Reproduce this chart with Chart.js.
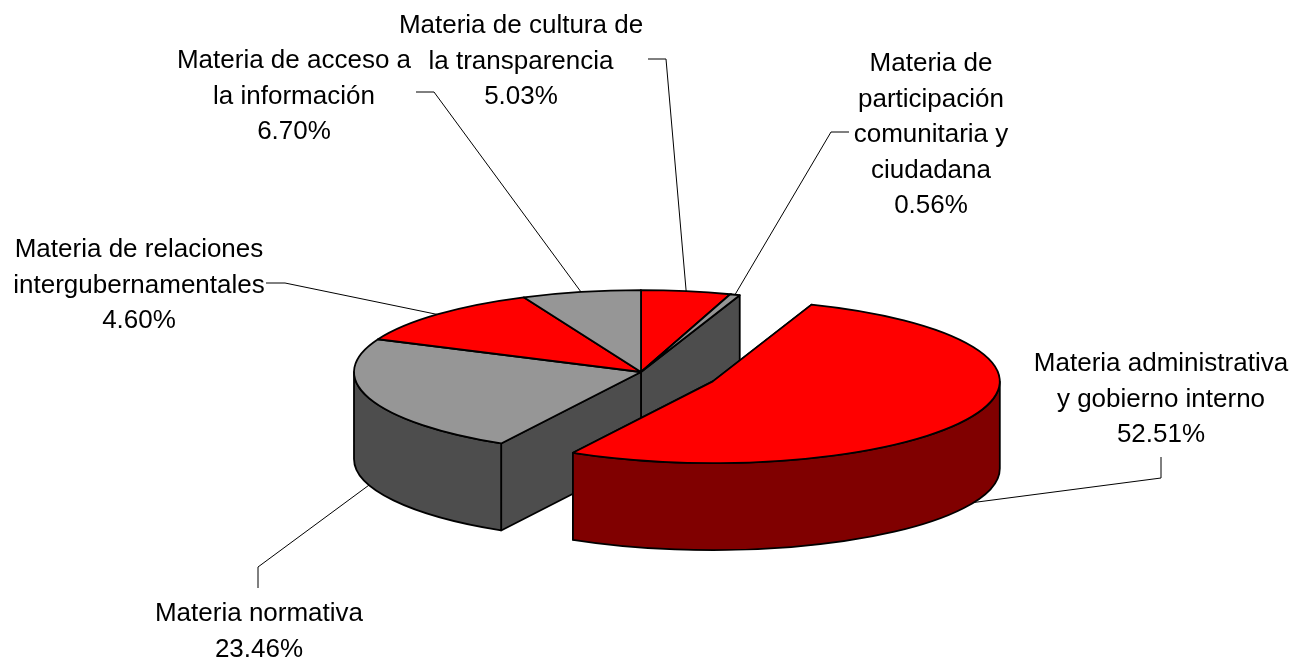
<!DOCTYPE html>
<html lang="es">
<head>
<meta charset="utf-8">
<title>Materias</title>
<script src="https://cdn.jsdelivr.net/npm/chart.js@4/dist/chart.umd.min.js"></script>
<style>
  html, body { margin: 0; padding: 0; background: #fff; }
  #wrap { width: 1304px; height: 659px; }
</style>
</head>
<body>
<div id="wrap"><canvas id="viz" width="1304" height="659"></canvas></div>
<script>
// Slices clockwise from 12 o'clock
const categories = [
  ['Materia de cultura de', 'la transparencia'],
  ['Materia de', 'participación', 'comunitaria y', 'ciudadana'],
  ['Materia administrativa', 'y gobierno interno'],
  ['Materia normativa'],
  ['Materia de relaciones', 'intergubernamentales'],
  ['Materia de acceso a', 'la información']
];
const pctLabels = ['5.03%', '0.56%', '52.51%', '23.46%', '4.60%', '6.70%'];
// The printed labels only add up to 92.86, the
// relaciones slice is drawn much wider than its 4.60% says.
const sliceValues = [5.03, 0.56, 52.51, 23.46, 11.74, 6.70];

const topColors = ['#ff0000', '#969696', '#ff0000', '#969696', '#ff0000', '#969696'];
const sideColors = ['#800000', '#4d4d4d', '#800000', '#4d4d4d', '#800000', '#4d4d4d'];
const explode = [0, 0, 79, 0, 0, 0];

// 3D look
const TILT = 0.285;
const DEPTH = 87;
const FONT = '26px "Liberation Sans", Arial, sans-serif';
const LINE_H = 35.5;
const EDGE_W = 1.8;

// Text block centre x + first baseline, leader elbows (label end, then corner)
const labelPos = [
  [521, 33], [931, 71], [1161, 371], [259, 621], [139, 257], [294, 68]
];
const leaderElbows = [
  [[648, 59], [666, 59]],
  [[849, 132], [831, 132]],
  [[1161, 457], [1161, 478]],
  [[258, 588], [258, 567]],
  [[266, 283], [285, 283]],
  [[416, 92], [434, 92]]
];

function sliceGeom(arc, i) {
  const mid = (arc.startAngle + arc.endAngle) / 2;
  return {
    cx: arc.x + Math.cos(mid) * explode[i],
    cy: arc.y + Math.sin(mid) * explode[i] * TILT,
    r: arc.outerRadius,
    a0: arc.startAngle,
    a1: arc.endAngle,
    mid
  };
}

function rimPoint(g, ang) {
  return [g.cx + Math.cos(ang) * g.r, g.cy + Math.sin(ang) * g.r * TILT];
}

function paint(ctx, fill) {
  ctx.fillStyle = fill;
  ctx.fill();
  ctx.lineWidth = EDGE_W;
  ctx.strokeStyle = '#000';
  ctx.lineJoin = 'round';
  ctx.stroke();
}

// Radial cut face, only shows where a slice is pulled out
function drawFace(ctx, g, ang, color) {
  const p = rimPoint(g, ang);
  ctx.beginPath();
  ctx.moveTo(g.cx, g.cy);
  ctx.lineTo(p[0], p[1]);
  ctx.lineTo(p[0], p[1] + DEPTH);
  ctx.lineTo(g.cx, g.cy + DEPTH);
  ctx.closePath();
  paint(ctx, color);
}

// Outer wall, front half of the rim only
function drawWall(ctx, g, color) {
  const tau = Math.PI * 2;
  for (let k = -1; k <= 1; k++) {
    const from = Math.max(g.a0, k * tau);
    const to = Math.min(g.a1, k * tau + Math.PI);
    if (to <= from) continue;
    ctx.beginPath();
    ctx.ellipse(g.cx, g.cy, g.r, g.r * TILT, 0, from, to);
    ctx.ellipse(g.cx, g.cy + DEPTH, g.r, g.r * TILT, 0, to, from, true);
    ctx.closePath();
    paint(ctx, color);
  }
}

function drawSlice(chart, arcs, i) {
  const ctx = chart.ctx;
  const arc = arcs[i];
  const g = sliceGeom(arc, i);
  const n = arcs.length;

  if (explode[i] !== explode[(i + n - 1) % n]) drawFace(ctx, g, g.a0, sideColors[i]);
  if (explode[i] !== explode[(i + 1) % n]) drawFace(ctx, g, g.a1, sideColors[i]);
  drawWall(ctx, g, sideColors[i]);

  // Top: library arc squashed, outline stroked afterwards so it stays even
  ctx.save();
  ctx.translate(g.cx, g.cy);
  ctx.scale(1, TILT);
  ctx.translate(-arc.x, -arc.y);
  arc.draw(ctx);
  ctx.restore();

  ctx.beginPath();
  ctx.moveTo(g.cx, g.cy);
  ctx.ellipse(g.cx, g.cy, g.r, g.r * TILT, 0, g.a0, g.a1);
  ctx.closePath();
  ctx.lineWidth = EDGE_W;
  ctx.strokeStyle = '#000';
  ctx.stroke();
}

function drawLeaders(chart, arcs) {
  const ctx = chart.ctx;
  ctx.lineWidth = 1;
  ctx.strokeStyle = '#000';
  arcs.forEach((arc, i) => {
    const g = sliceGeom(arc, i);
    const p = rimPoint(g, g.mid);
    const front = Math.sin(g.mid) > 0;
    const [a, b] = leaderElbows[i];
    ctx.beginPath();
    ctx.moveTo(a[0], a[1]);
    ctx.lineTo(b[0], b[1]);
    ctx.lineTo(p[0], p[1] + (front ? DEPTH : 0));
    ctx.stroke();
  });
}

function drawLabels(chart) {
  const ctx = chart.ctx;
  ctx.font = FONT;
  ctx.fillStyle = '#000';
  ctx.textAlign = 'center';
  ctx.textBaseline = 'alphabetic';
  categories.forEach((lines, i) => {
    const [x, y] = labelPos[i];
    lines.concat(pctLabels[i]).forEach((t, j) => {
      ctx.fillText(t, x, y + j * LINE_H);
    });
  });
}

const pie3d = {
  id: 'pie3d',
  beforeDatasetDraw(chart, args) {
    const arcs = args.meta.data;
    const ctx = chart.ctx;
    ctx.save();
    drawLeaders(chart, arcs);
    // Pie in place first, pulled out slices on top of it
    arcs.forEach((arc, i) => { if (!explode[i]) drawSlice(chart, arcs, i); });
    arcs.forEach((arc, i) => { if (explode[i]) drawSlice(chart, arcs, i); });
    drawLabels(chart);
    ctx.restore();
    return false;
  }
};

new Chart(document.getElementById('viz').getContext('2d'), {
  type: 'pie',
  data: {
    labels: categories.map(c => c.join(' ')),
    datasets: [{
      data: sliceValues,
      backgroundColor: topColors,
      borderWidth: 0
    }]
  },
  options: {
    responsive: false,
    animation: false,
    radius: 287,
    layout: { padding: { left: 0, right: 22, top: 85, bottom: 0 } },
    plugins: { legend: { display: false }, tooltip: { enabled: false } }
  },
  plugins: [pie3d]
});
</script>
</body>
</html>
